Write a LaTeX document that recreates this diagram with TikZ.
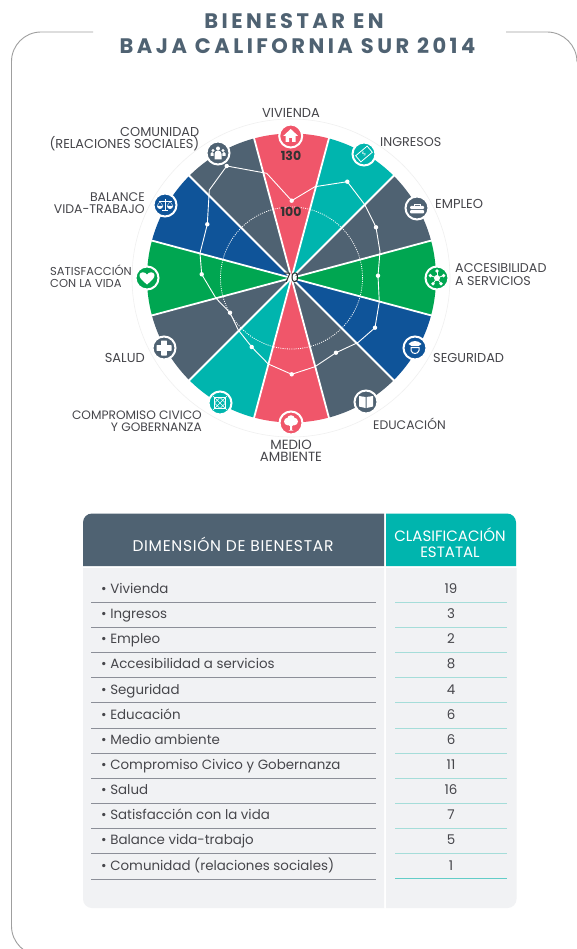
\documentclass[tikz,border=0pt]{standalone}
\usepackage{fontspec}
\setmainfont{Poppins}
\usetikzlibrary{calc}
\definecolor{slate}{HTML}{4F6272}
\definecolor{rose}{HTML}{F0566A}
\definecolor{teal2}{HTML}{00B5AE}
\definecolor{green2}{HTML}{00A651}
\definecolor{blue2}{HTML}{0F5499}
\definecolor{body}{HTML}{F1F2F4}
\definecolor{txt}{HTML}{46464B}
\definecolor{rulegray}{HTML}{8C8F98}
\definecolor{ruleteal}{HTML}{A5DDD9}
\newcommand{\sect}[3]{\fill[#3] (291.5,-278) -- ($(291.5,-278)+(#1:144.5)$) arc (#1:#2:144.5pt) -- cycle;}
\newcommand{\gap}[1]{\draw[white,line width=1.8pt] (291.5,-278) -- ($(291.5,-278)+(#1:146)$);}
\newcommand{\fs}[1]{\fontsize{#1}{12.2}\selectfont}
\tikzset{
  x=1pt,y=1pt,
  ring/.style={circle,fill=#1,draw=white,line width=2pt,minimum size=23pt,inner sep=0pt},
  lab/.style={text=txt,inner sep=0pt,align=#1},
  row/.style={font=\fontsize{13.4}{14}\selectfont,text=txt,anchor=base west,inner sep=0pt},
  num/.style={font=\fontsize{13.4}{14}\selectfont,text=txt,anchor=base,inner sep=0pt},
  val/.style={font=\bfseries\fontsize{12.5}{14}\selectfont,text=black!80,inner sep=0pt},
  dot/.style={circle,fill=white,inner sep=0pt,minimum size=4.4pt},
  datal/.style={white,line width=0.9pt,line join=round}
}
\begin{document}
\begin{tikzpicture}
\useasboundingbox (0,0) rectangle (577,-949);
\clip (0,0) rectangle (577,-949);
\fill[white] (0,0) rectangle (577,-949);
% frame
\draw[gray!75,line width=0.9pt] (93,-32) -- (41,-32) arc (90:180:29.5pt) -- (11.5,-926) arc (180:270:29.5pt);
\draw[gray!75,line width=0.9pt] (506,-32) -- (547,-32) arc (90:0:30pt);
% title
\node[inner sep=0pt,text=slate] (t1) at (294,-21) {\fontsize{21}{24}\selectfont\bfseries\addfontfeature{LetterSpace=16.5}BIENESTAR EN};
\node[inner sep=0pt,text=slate] (t2) at (297.5,-46) {\fontsize{21}{24}\selectfont\bfseries\addfontfeature{LetterSpace=16.5}BAJA CALIFORNIA SUR 2014};
% outer faint ring
\draw[black!6,line width=0.6pt] (291,-278) circle (159pt);
% sectors
\sect{75}{105}{rose}
\sect{45}{75}{teal2}
\sect{15}{45}{slate}
\sect{-15}{15}{green2}
\sect{-45}{-15}{blue2}
\sect{-75}{-45}{slate}
\sect{-105}{-75}{rose}
\sect{-135}{-105}{teal2}
\sect{-165}{-135}{slate}
\sect{165}{195}{green2}
\sect{135}{165}{blue2}
\sect{105}{135}{slate}
\foreach \a in {15,45,...,345} {\gap{\a}}
% dotted circle
\draw[white,line width=0.8pt,dash pattern=on 1pt off 1.2pt] (291.5,-278) circle (71pt);
% data
\coordinate (dCom) at (226.7,-166);
\coordinate (dViv) at (291.7,-200.7);
\coordinate (dIng) at (347.3,-181.7);
\coordinate (dEmp) at (376,-227.3);
\coordinate (dAcc) at (378,-275.7);
\coordinate (dSeg) at (375,-327.7);
\coordinate (dEdu) at (336,-352.7);
\coordinate (dMed) at (291.7,-374.3);
\coordinate (dCmp) at (251.7,-347);
\coordinate (dSal) at (230,-312.7);
\coordinate (dSat) at (201.7,-274.3);
\coordinate (dBal) at (207.3,-224.3);
\draw[datal] (dCom) -- (266.7,-173.3) -- (dViv) -- (315,-186.7) -- (dIng) -- (365,-205) -- (dEmp)
  -- (380,-251.7) -- (dAcc) -- (379.3,-301.7) -- (dSeg) -- (358,-342.5) -- (dEdu) -- (315,-366.7)
  -- (dMed) -- (268.3,-364) -- (dCmp) -- (238.3,-330) -- (dSal) -- (216,-298.3) -- (dSat)
  -- (200,-253.3) -- (dBal) -- (209.3,-190) -- cycle;
\foreach \p in {dCom,dViv,dIng,dEmp,dAcc,dSeg,dEdu,dMed,dCmp,dSal,dSat,dBal} {\node[dot] at (\p) {};}
% scale values
\node[val] (v130) at (291,-156) {130};
\node[val] (v100) at (291,-212) {100};
\node[inner sep=0pt,text=black!85] (v70) at (291.5,-278) {\fontsize{13}{14}\selectfont 70};
% icon rings
\node[ring=rose] (iViv) at (290.7,-136) {};
\node[ring=teal2] (iIng) at (364,-154) {};
\node[ring=slate] (iEmp) at (417,-208) {};
\node[ring=green2] (iAcc) at (437,-278) {};
\node[ring=blue2] (iSeg) at (415,-348) {};
\node[ring=slate] (iEdu) at (366,-402) {};
\node[ring=rose] (iMed) at (291,-423) {};
\node[ring=teal2] (iCmp) at (220,-403) {};
\node[ring=slate] (iSal) at (164,-348) {};
\node[ring=green2] (iSat) at (147,-278) {};
\node[ring=blue2] (iBal) at (165,-205) {};
\node[ring=slate] (iCom) at (218,-153) {};
% house
\begin{scope}[shift={(iViv.center)}]
\fill[white] (0,7) -- (-7.5,0) -- (-5,0) -- (-5,-6) -- (-1.5,-6) -- (-1.5,-2) -- (1.5,-2) -- (1.5,-6) -- (5,-6) -- (5,0) -- (7.5,0) -- cycle;
\end{scope}
% banknote
\begin{scope}[shift={(iIng.center)},rotate=40]
\draw[white,line width=0.8pt] (-7.5,-4) rectangle (7.5,4);
\node[inner sep=0pt,text=white,rotate=40] (iIngS) at (0,0) {\fontsize{5.5}{6}\selectfont\$};
\end{scope}
% briefcase
\begin{scope}[shift={(iEmp.center)}]
\fill[white,rounded corners=1pt] (-7,2) rectangle (7,-1);
\fill[white,rounded corners=1pt] (-7,-2) rectangle (7,-5.5);
\draw[white,line width=0.9pt] (-3,2) -- (-3,4) -- (3,4) -- (3,2);
\end{scope}
% network
\begin{scope}[shift={(iAcc.center)}]
\foreach \a in {20,90,160,235,305} {
  \draw[white,line width=0.8pt] (0,0) -- (\a:7);
  \fill[white] (\a:7) circle (1.9pt);
}
\fill[white] (0,0) circle (3pt);
\end{scope}
% police
\begin{scope}[shift={(iSeg.center)}]
\fill[white] (-6.5,4) .. controls (-3,8) and (3,8) .. (6.5,4) -- (3.5,2) -- (-3.5,2) -- cycle;
\draw[white,line width=1pt] (-4,0.5) -- (-4,-2.5) .. controls (-3,-6.5) and (3,-6.5) .. (4,-2.5) -- (4,0.5) -- cycle;
\end{scope}
% book
\begin{scope}[shift={(iEdu.center)}]
\fill[white] (-0.5,-6) -- (-7,-4.5) -- (-7,6) -- (-0.5,5) -- cycle;
\fill[white] (0.5,-6) -- (7,-4.5) -- (7,6) -- (0.5,5) -- cycle;
\end{scope}
% tree
\begin{scope}[shift={(iMed.center)}]
\fill[white] (-3.2,1.5) circle (3.8pt);
\fill[white] (3.2,1.5) circle (3.8pt);
\fill[white] (0,4) circle (3.8pt);
\fill[white] (0,0) circle (3.4pt);
\fill[white] (-1,-7) -- (-2.5,-7.5) -- (2.5,-7.5) -- (1,-7) -- (1,0) -- (-1,0) -- cycle;
\end{scope}
% square cross
\begin{scope}[shift={(iCmp.center)}]
\draw[white,line width=0.7pt] (-5.5,-5.5) rectangle (5.5,5.5);
\draw[white,line width=0.6pt] (-7,-7) -- (7,7) (-7,7) -- (7,-7);
\draw[white,line width=0.5pt] (-5.5,0) -- (0,5.5) -- (5.5,0) -- (0,-5.5) -- cycle;
\end{scope}
% plus
\begin{scope}[shift={(iSal.center)}]
\fill[white,rounded corners=0.5pt] (-2.9,-7.5) rectangle (2.9,7.5);
\fill[white,rounded corners=0.5pt] (-7.5,-2.9) rectangle (7.5,2.9);
\end{scope}
% heart
\begin{scope}[shift={(iSat.center)}]
\fill[white] (0,-6.5) .. controls (-4,-3) and (-8,0) .. (-7.5,3) .. controls (-7,6.5) and (-2,6.5) .. (0,3.5) .. controls (2,6.5) and (7,6.5) .. (7.5,3) .. controls (8,0) and (4,-3) .. (0,-6.5) -- cycle;
\end{scope}
% scales
\begin{scope}[shift={(iBal.center)}]
\draw[white,line width=0.8pt] (0,5.5) -- (0,-5) (-3,-5.5) -- (3,-5.5) (-6.5,3.5) -- (6.5,3.5);
\fill[white] (-8,-1) arc (180:360:3pt) -- cycle;
\fill[white] (2,-1) arc (180:360:3pt) -- cycle;
\draw[white,line width=0.4pt] (-8,-1) -- (-5,3.5) -- (-2,-1) (2,-1) -- (5,3.5) -- (8,-1);
\end{scope}
% people
\begin{scope}[shift={(iCom.center)}]
\fill[white] (0,4.5) circle (2pt);
\fill[white] (-5,2.5) circle (1.7pt);
\fill[white] (5,2.5) circle (1.7pt);
\fill[white] (-3.5,-6.5) -- (-3.5,-1) arc (180:0:3.5pt) -- (3.5,-6.5) -- cycle;
\fill[white] (-7.5,-3) -- (-7.5,-0.5) arc (180:0:1.6pt) -- (-4.3,-3) -- cycle;
\fill[white] (4.3,-3) -- (4.3,-0.5) arc (180:0:1.6pt) -- (7.5,-3) -- cycle;
\end{scope}
% labels
\node[lab=center,font=\fs{13}] (lViv) at (291,-112.5) {VIVIENDA};
\node[lab=right,anchor=east,font=\fs{12.9}] (lCom) at (199.5,-139.5) {COMUNIDAD\\(RELACIONES SOCIALES)};
\node[lab=left,anchor=west,font=\fs{12.7}] (lIng) at (380,-142.5) {INGRESOS};
\node[lab=left,anchor=west,font=\fs{13}] (lEmp) at (435,-203.5) {EMPLEO};
\node[lab=left,anchor=west,font=\fs{12.7}] (lAcc) at (455,-274.5) {ACCESIBILIDAD\\A SERVICIOS};
\node[lab=left,anchor=west,font=\fs{12.9}] (lSeg) at (433,-357.5) {SEGURIDAD};
\node[lab=left,anchor=west,font=\fs{12.4}] (lEdu) at (373,-423.5) {EDUCACIÓN};
\node[lab=center,font=\fs{13.3}] (lMed) at (291,-450.5) {MEDIO\\AMBIENTE};
\node[lab=right,anchor=east,font=\fs{12.2}] (lCmp) at (202,-421.5) {COMPROMISO CIVICO\\Y GOBERNANZA};
\node[lab=right,anchor=east,font=\fs{13}] (lSal) at (145,-357.5) {SALUD};
\node[lab=left,anchor=west,font=\fs{11.5}] (lSat) at (50,-276.5) {SATISFACCIÓN\\CON LA VIDA};
\node[lab=right,anchor=east,font=\fs{12.5}] (lBal) at (145,-203.5) {BALANCE\\VIDA-TRABAJO};
% table
\fill[slate] (83,-566) -- (83,-522.5) arc (180:90:9pt) -- (384,-513.5) -- (384,-566) -- cycle;
\fill[teal2] (386,-566) -- (386,-513.5) -- (507,-513.5) arc (90:0:9pt) -- (516,-566) -- cycle;
\fill[body] (83,-568) -- (83,-899) arc (180:270:9pt) -- (384,-908) -- (384,-568) -- cycle;
\fill[body] (386,-568) -- (386,-908) -- (507.5,-908) arc (270:360:9pt) -- (516.5,-568) -- cycle;
\node[inner sep=0pt,text=white] (hL) at (233,-544) {\fontsize{15.5}{17}\selectfont\addfontfeature{LetterSpace=4.5}DIMENSIÓN DE BIENESTAR};
\node[inner sep=0pt,text=white,align=center,font=\fontsize{15}{15.5}\selectfont] (hR) at (450,-542.5) {CLASIFICACIÓN\\ESTATAL};
\foreach \t/\n/\i in {Vivienda/19/0,Ingresos/3/1,Empleo/2/2,Accesibilidad a servicios/8/3,Seguridad/4/4,Educación/6/5,Medio ambiente/6/6,Compromiso Civico y Gobernanza/11/7,Salud/16/8,Satisfacción con la vida/7/9,Balance vida-trabajo/5/10,Comunidad (relaciones sociales)/1/11} {
  \pgfmathsetmacro{\yy}{-593.4-25.15*\i}
  \pgfmathsetmacro{\yr}{-602.3-25.15*\i}
  \node[row] (r\i) at (101,\yy) {• \t};
  \node[num] (n\i) at (451,\yy) {\n};
  \draw[rulegray,line width=0.9pt] (91,\yr) -- (376,\yr);
  \ifnum\i=11
    \draw[ruleteal!60!teal2,line width=1pt] (395,\yr) -- (507,\yr);
  \else
    \draw[ruleteal,line width=0.9pt] (395,\yr) -- (507,\yr);
  \fi
}
\end{tikzpicture}
\end{document}
